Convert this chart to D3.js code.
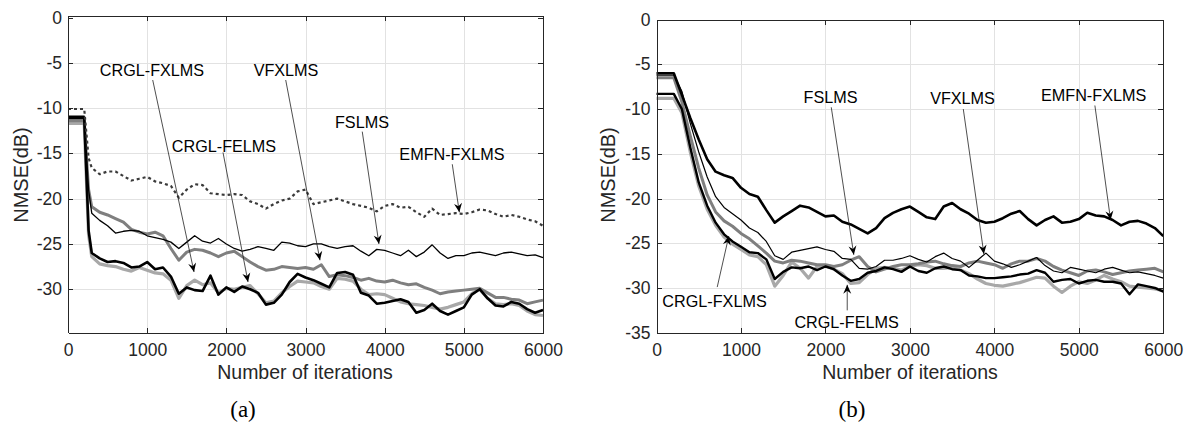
<!DOCTYPE html>
<html>
<head>
  <meta charset="utf-8">
  <style>
    body { margin: 0; background: #fff; }
    text { font-family: "Liberation Sans", Arial, sans-serif; fill: #262626; }
    .grid line { stroke: #e2e2e2; stroke-width: 1; shape-rendering: crispEdges; }
    .axis path, .axis line { stroke: #262626; stroke-width: 1; shape-rendering: crispEdges; }
    .axis text { font-size: 17.5px; fill: #262626; }
    .note text { font-size: 16.2px; fill: #000; }
  </style>
</head>
<body>
  <script src="https://d3js.org/d3.v7.min.js"></script>
  <script>
    // ---- data ----
    var xTicks = [0, 1000, 2000, 3000, 4000, 5000, 6000];
    var yTicksA = [0, -5, -10, -15, -20, -25, -30];
    var yTicksB = [0, -5, -10, -15, -20, -25, -30, -35];

    var itersA = [0, 205, 260, 300, 400, 500, 600, 700, 800, 900,
      1000, 1100, 1200, 1300, 1400, 1500, 1600, 1700, 1800, 1900,
      2000, 2100, 2200, 2300, 2400, 2500, 2600, 2700, 2800, 2900,
      3000, 3100, 3200, 3300, 3400, 3500, 3600, 3700, 3800, 3900,
      4000, 4100, 4200, 4300, 4400, 4500, 4600, 4700, 4800, 4900,
      5000, 5100, 5200, 5300, 5400, 5500, 5600, 5700, 5800, 5900,
      6000];

    var emfnA = [-10.1, -10.1, -15.5, -16.6, -17.3, -17.0, -17.0, -17.5, -18.0, -17.8,
      -17.6, -18.1, -18.3, -18.6, -19.9, -19.0, -18.4, -18.5, -19.4, -19.5,
      -19.6, -19.5, -19.6, -20.3, -20.6, -21.1, -20.6, -20.2, -20.0, -19.2,
      -19.0, -20.6, -20.4, -20.2, -20.0, -20.3, -20.6, -20.8, -21.0, -21.4,
      -20.8, -20.6, -21.0, -20.9, -21.5, -22.0, -21.1, -21.8, -21.7, -21.6,
      -21.7, -21.5, -21.2, -21.3, -21.7, -22.0, -21.8, -22.0, -22.3, -22.5,
      -23.0];
    var fslmsA = [-10.9, -10.9, -19.0, -21.6, -22.4, -23.0, -23.8, -23.6, -23.5, -23.6,
      -24.1, -24.3, -24.5, -24.8, -25.5, -24.8, -24.1, -24.7, -24.9, -24.4,
      -25.0, -25.5, -25.8, -25.6, -25.3, -25.5, -25.7, -24.8, -24.9, -25.2,
      -25.3, -25.0, -25.0, -25.3, -25.5, -25.3, -25.2, -25.8, -26.3, -25.6,
      -25.7, -26.0, -26.3, -25.7, -26.4, -25.9, -25.1, -26.0, -26.6, -26.3,
      -26.3, -26.0, -25.9, -26.1, -26.3, -26.0, -25.9, -26.1, -26.3, -26.2,
      -26.5];
    var vfxlmsA = [-11.4, -11.4, -19.0, -20.9, -21.5, -21.8, -22.2, -22.6, -23.4, -23.7,
      -23.9, -23.7, -24.1, -25.5, -26.8, -25.9, -25.6, -25.7, -26.0, -26.4,
      -26.0, -25.8, -26.4, -27.0, -27.5, -27.9, -27.8, -27.5, -27.6, -27.7,
      -27.6, -27.8, -27.3, -28.6, -28.4, -28.5, -28.7, -29.0, -28.8, -29.1,
      -29.2, -29.0, -29.3, -29.5, -29.4, -29.8, -30.1, -30.5, -30.3, -30.2,
      -30.1, -30.0, -29.9, -30.4, -30.9, -30.9, -31.1, -31.2, -31.6, -31.4,
      -31.2];
    var crglFxA = [-11.1, -11.1, -23.5, -26.0, -26.6, -27.0, -26.9, -27.1, -27.6, -27.5,
      -27.0, -27.8, -27.6, -28.6, -30.5, -29.8, -30.1, -30.2, -28.5, -30.6,
      -29.8, -30.3, -29.7, -30.0, -30.4, -31.7, -31.5, -30.6, -29.2, -28.3,
      -28.7, -29.0, -29.4, -29.8, -28.2, -28.1, -28.4, -30.4, -30.7, -31.6,
      -31.5, -31.3, -31.1, -31.4, -32.6, -32.3, -31.6, -32.4, -32.8, -32.4,
      -32.0, -30.6, -30.0, -31.0, -31.8, -31.9, -31.4, -31.6, -32.2, -32.6,
      -32.3];
    var crglFeA = [-11.7, -11.7, -24.0, -26.4, -27.2, -27.4, -27.5, -27.8, -28.0, -27.6,
      -27.9, -28.2, -28.3, -29.0, -31.0, -29.6, -29.0, -29.5, -29.3, -30.4,
      -29.9, -30.0, -29.8, -29.6, -30.5, -31.5, -31.3, -30.4, -29.7, -29.1,
      -29.2, -29.3, -29.7, -30.0, -28.8, -28.9, -29.1, -30.0, -30.6, -30.5,
      -30.6, -31.0, -31.4, -31.6, -31.7, -31.8, -32.0, -32.2, -32.0, -31.7,
      -31.4, -30.5, -30.0, -31.0, -31.6, -31.7, -31.6, -31.8, -32.4, -32.8,
      -32.9];

    var itersB = [0, 205, 300, 400, 500, 600, 700, 800, 900, 1000,
      1100, 1200, 1300, 1400, 1500, 1600, 1700, 1800, 1900, 2000,
      2100, 2200, 2300, 2400, 2500, 2600, 2700, 2800, 2900, 3000,
      3100, 3200, 3300, 3400, 3500, 3600, 3700, 3800, 3900, 4000,
      4100, 4200, 4300, 4400, 4500, 4600, 4700, 4800, 4900, 5000,
      5100, 5200, 5300, 5400, 5500, 5600, 5700, 5800, 5900, 6000];

    var emfnB = [-6.0, -6.0, -8.4, -11.0, -13.4, -15.6, -17.0, -17.4, -17.7, -18.8,
      -19.5, -19.8, -21.3, -22.7, -22.0, -21.4, -20.8, -21.0, -21.5, -22.0,
      -21.9, -22.6, -22.9, -23.4, -23.9, -23.3, -22.2, -21.6, -21.2, -20.9,
      -21.5, -22.1, -22.3, -20.9, -20.5, -21.2, -21.7, -22.4, -22.7, -22.6,
      -22.2, -21.7, -21.4, -22.3, -23.0, -22.4, -22.0, -22.7, -22.6, -22.3,
      -21.6, -21.9, -22.0, -22.4, -23.0, -22.6, -22.5, -22.8, -23.3, -24.2];
    var vfxlmsB = [-6.2, -6.2, -8.0, -11.6, -14.8, -17.6, -19.8, -21.0, -21.7, -22.4,
      -23.3, -23.8, -24.8, -26.4, -26.8, -26.0, -25.8, -25.6, -25.4, -25.7,
      -25.9, -26.7, -26.8, -27.8, -27.9, -27.6, -26.9, -26.9, -26.7, -26.4,
      -26.8, -27.1, -26.5, -26.1, -26.7, -27.0, -27.7, -26.9, -26.1, -27.0,
      -27.3, -27.7, -27.4, -27.0, -26.6, -27.5, -28.1, -28.3, -27.7, -27.9,
      -28.1, -28.3, -27.9, -27.7, -28.0, -28.3, -28.2, -28.4, -28.6, -28.9];
    var fslmsB = [-6.5, -6.5, -9.2, -13.0, -16.6, -19.6, -21.5, -22.5, -23.1, -23.9,
      -24.5, -25.3, -26.1, -27.0, -27.2, -26.9, -27.0, -27.2, -27.4, -27.4,
      -27.6, -27.4, -26.9, -26.5, -27.6, -28.2, -27.9, -27.6, -27.4, -27.4,
      -27.3, -27.1, -27.0, -27.3, -27.5, -27.6, -27.2, -27.0, -27.2, -27.4,
      -27.8, -27.3, -27.0, -27.0, -26.7, -27.0, -27.6, -28.0, -28.3, -28.6,
      -28.1, -28.0, -28.2, -28.5, -28.3, -28.1, -28.0, -27.9, -27.8, -28.2];
    var crglFxB = [-8.3, -8.3, -10.0, -14.3, -18.2, -20.8, -22.7, -24.0, -24.8, -25.4,
      -26.0, -26.1, -26.8, -29.0, -28.2, -27.7, -27.8, -27.6, -28.0, -27.6,
      -27.9, -28.6, -29.2, -29.0, -28.3, -28.1, -27.7, -27.9, -28.2, -27.6,
      -28.1, -28.3, -27.8, -27.6, -27.9, -28.0, -28.6, -28.7, -28.9, -28.9,
      -28.8, -28.7, -28.5, -28.4, -28.0, -28.3, -29.3, -29.1, -29.0, -29.5,
      -29.2, -29.1, -29.3, -29.3, -29.5, -30.7, -29.6, -29.8, -30.0, -30.4];
    var crglFeB = [-8.8, -8.8, -10.4, -14.8, -18.6, -21.2, -23.0, -24.3, -25.1, -25.7,
      -26.3, -26.5, -27.4, -29.8, -28.6, -27.1, -27.8, -28.9, -27.6, -27.5,
      -27.9, -28.4, -29.5, -29.4, -28.5, -27.8, -27.7, -27.8, -28.0, -27.6,
      -27.4, -27.5, -27.8, -27.8, -27.7, -28.0, -28.4, -29.0, -29.5, -29.7,
      -29.8, -29.6, -29.4, -29.1, -28.8, -28.9, -29.8, -30.5, -29.8, -29.3,
      -29.5, -29.1, -28.6, -29.0, -29.3, -29.8, -29.9, -30.0, -30.1, -30.3];

    // annotation: label, text position, line start, arrow tip (iterations, dB)
    var notesA = [
      ["CRGL-FXLMS", 1061, -5.8, 1070, -6.9, 1592, -28.1],
      ["VFXLMS", 2754, -5.8, 2750, -6.9, 3183, -26.8],
      ["CRGL-FELMS", 1970, -14.2, 1958, -14.9, 2274, -29.2],
      ["FSLMS", 3713, -11.5, 3717, -12.6, 3928, -25.0],
      ["EMFN-FXLMS", 4850, -15.1, 4854, -16.2, 4943, -21.5]
    ];
    var notesB = [
      ["FSLMS", 2060, -8.7, 2069, -9.8, 2336, -26.3],
      ["VFXLMS", 3623, -8.8, 3632, -10.0, 3876, -26.2],
      ["EMFN-FXLMS", 5175, -8.4, 5190, -9.6, 5376, -22.4],
      ["CRGL-FXLMS", 687, -31.5, 719, -29.9, 856, -24.2],
      ["CRGL-FELMS", 2250, -33.8, 2258, -32.5, 2258, -29.65]
    ];

    var svg = d3.select("body").append("svg")
        .attr("width", 1186)
        .attr("height", 424);

    var plain = function(d) { return String(d); };

    function drawPanel(p) {
      var x = d3.scaleLinear().domain([0, 6000]).range([p.left, p.right]);
      var y = d3.scaleLinear().domain(p.yDomain).range([p.bottom, p.top]);
      var g = svg.append("g");

      // grid
      var grid = g.append("g").attr("class", "grid");
      grid.selectAll(".gx").data(xTicks.slice(1, -1)).enter().append("line")
        .attr("x1", function(d) { return Math.round(x(d)) + 0.5; })
        .attr("x2", function(d) { return Math.round(x(d)) + 0.5; })
        .attr("y1", p.top).attr("y2", p.bottom);
      grid.selectAll(".gy").data(p.yTicks.filter(function(d) { return y(d) > p.top + 2 && y(d) < p.bottom - 2; }))
        .enter().append("line")
        .attr("x1", p.left).attr("x2", p.right)
        .attr("y1", function(d) { return Math.round(y(d)) + 0.5; })
        .attr("y2", function(d) { return Math.round(y(d)) + 0.5; });

      // curves
      var line = d3.line()
        .x(function(d) { return x(d[0]); })
        .y(function(d) { return y(d[1]); });
      var lines = g.append("g");
      p.series.forEach(function(s) {
        lines.append("path")
          .datum(p.iters.map(function(it, i) { return [it, s.values[i]]; }))
          .attr("fill", "none")
          .attr("stroke", s.color)
          .attr("stroke-width", s.width)
          .attr("stroke-dasharray", s.dash || null)
          .attr("stroke-linejoin", "round")
          .attr("d", line);
      });

      // axes (ticks inside, box)
      g.append("g").attr("class", "axis")
        .attr("transform", "translate(0," + p.bottom + ")")
        .call(d3.axisBottom(x).tickValues(xTicks).tickFormat(plain).tickSizeInner(-5).tickSizeOuter(0).tickPadding(10.5));
      g.append("g").attr("class", "axis")
        .attr("transform", "translate(0," + p.top + ")")
        .call(d3.axisTop(x).tickValues(xTicks).tickSizeInner(-5).tickSizeOuter(0).tickFormat(""));
      g.append("g").attr("class", "axis")
        .attr("transform", "translate(" + p.left + ",0)")
        .call(d3.axisLeft(y).tickValues(p.yTicks).tickFormat(plain).tickSizeInner(-5).tickSizeOuter(0).tickPadding(6));
      g.append("g").attr("class", "axis")
        .attr("transform", "translate(" + p.right + ",0)")
        .call(d3.axisRight(y).tickValues(p.yTicks).tickSizeInner(-5).tickSizeOuter(0).tickFormat(""));

      // annotations
      var notes = g.append("g").attr("class", "note");
      p.notes.forEach(function(n) {
        var x1 = x(n[3]), y1 = y(n[4]), x2 = x(n[5]), y2 = y(n[6]);
        notes.append("text")
          .attr("x", x(n[1])).attr("y", y(n[2]))
          .attr("dy", "0.36em")
          .attr("text-anchor", "middle")
          .text(n[0]);
        notes.append("line")
          .attr("x1", x1).attr("y1", y1).attr("x2", x2).attr("y2", y2)
          .attr("stroke", "#222").attr("stroke-width", 0.8);
        var ang = Math.atan2(y2 - y1, x2 - x1) * 180 / Math.PI;
        notes.append("path")
          .attr("d", "M0,0 L-9,-4 L-6,0 L-9,4 Z")
          .attr("fill", "#000")
          .attr("transform", "translate(" + x2 + "," + y2 + ") rotate(" + ang + ")");
      });

      // labels
      g.append("text")
        .attr("x", p.xLabelX).attr("y", 379)
        .attr("text-anchor", "middle")
        .style("font-size", "19.5px")
        .text("Number of iterations");
      g.append("text")
        .attr("transform", "translate(" + p.yLabelX + ",175) rotate(-90)")
        .attr("text-anchor", "middle")
        .style("font-size", "20px")
        .text("NMSE(dB)");
      g.append("text")
        .attr("x", p.capX).attr("y", 417)
        .attr("text-anchor", "middle")
        .style("font-family", "'Liberation Serif', 'DejaVu Serif', serif")
        .style("font-size", "23px")
        .style("fill", "#000")
        .text(p.caption);
    }

    drawPanel({
      left: 68, right: 543, top: 15.7, bottom: 332.7,
      yDomain: [-34.8, 0.2], yTicks: yTicksA,
      iters: itersA,
      series: [
        {values: crglFeA, color: "#a8a8a8", width: 3.2},
        {values: vfxlmsA, color: "#7f7f7f", width: 3},
        {values: crglFxA, color: "#000", width: 2.6},
        {values: fslmsA, color: "#000", width: 1.3},
        {values: emfnA, color: "#3a3a3a", width: 2.2, dash: "3,3"}
      ],
      notes: notesA,
      xLabelX: 305, yLabelX: 28, capX: 243, caption: "(a)"
    });

    drawPanel({
      left: 656.5, right: 1163.3, top: 19.6, bottom: 332.7,
      yDomain: [-35, 0], yTicks: yTicksB,
      iters: itersB,
      series: [
        {values: crglFeB, color: "#a8a8a8", width: 3.2},
        {values: fslmsB, color: "#7f7f7f", width: 3},
        {values: crglFxB, color: "#000", width: 2.4},
        {values: vfxlmsB, color: "#000", width: 1.2},
        {values: emfnB, color: "#000", width: 2.6}
      ],
      notes: notesB,
      xLabelX: 910, yLabelX: 615, capX: 852, caption: "(b)"
    });
  </script>
</body>
</html>
